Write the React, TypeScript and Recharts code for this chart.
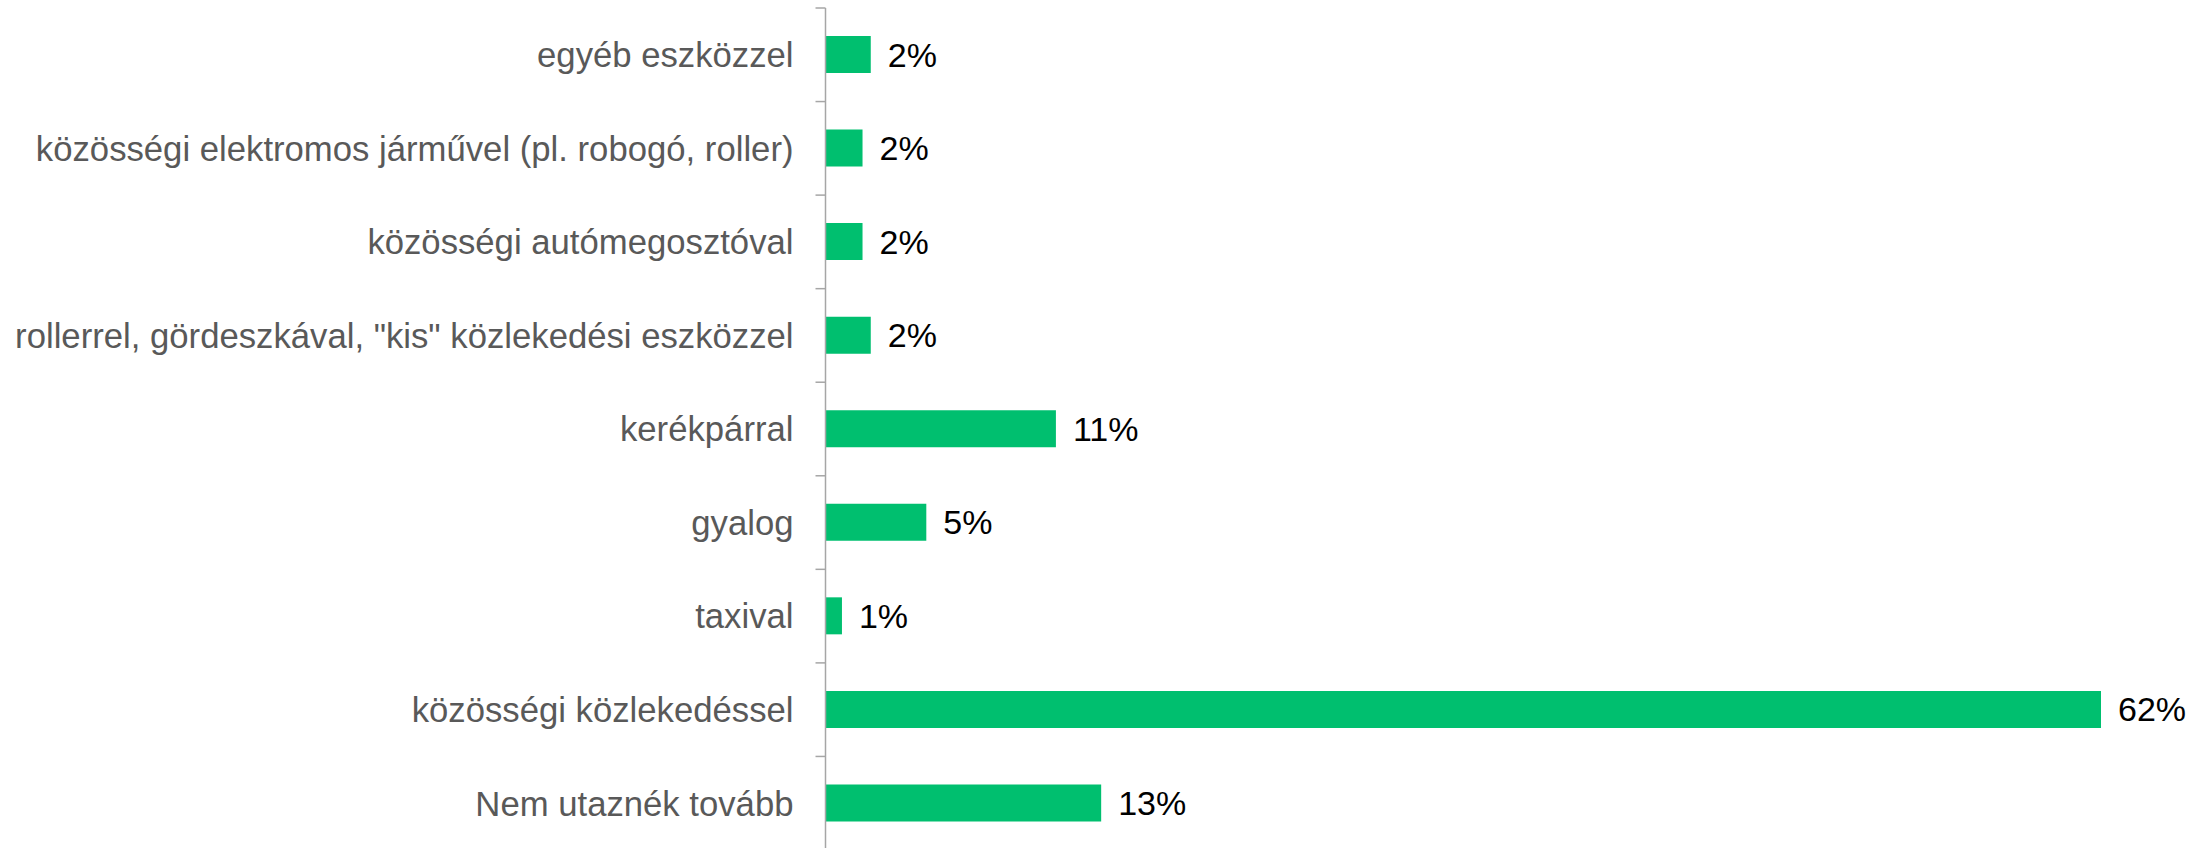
import React from "react";
import { BarChart, Bar, XAxis, YAxis, LabelList } from "recharts";

const categories = [
  "egyéb eszközzel",
  "közösségi elektromos járművel (pl. robogó, roller)",
  "közösségi autómegosztóval",
  "rollerrel, gördeszkával, \"kis\" közlekedési eszközzel",
  "kerékpárral",
  "gyalog",
  "taxival",
  "közösségi közlekedéssel",
  "Nem utaznék tovább",
];

const values = [2.2, 1.8, 1.8, 2.2, 11.2, 4.9, 0.8, 62.0, 13.4];

const data = categories.map((name, i) => ({ name, value: values[i] }));

const FONT = "'Liberation Sans', Arial, sans-serif";
const CHART_H = 852;
const MARGIN = { top: 8, right: 107, bottom: 2, left: 0 };
const TICK_SIZE = 10;
const TICK_MARGIN = 22;
const BAND = (CHART_H - MARGIN.top - MARGIN.bottom) / categories.length;

const CategoryTick = (props: any) => {
  const { x, y, payload, index } = props;
  const axisX = x + TICK_MARGIN + TICK_SIZE;
  return (
    <g>
      <text
        x={x}
        y={y}
        dy="0.355em"
        textAnchor="end"
        fill="#595959"
        fontSize={34.7}
        fontFamily={FONT}
      >
        {payload.value}
      </text>
      <line
        x1={axisX - TICK_SIZE}
        x2={axisX}
        y1={y - BAND / 2}
        y2={y - BAND / 2}
        stroke="#a6a6a6"
        strokeWidth={1.5}
      />
      {index === categories.length - 1 && (
        <line
          x1={axisX - TICK_SIZE}
          x2={axisX}
          y1={y + BAND / 2}
          y2={y + BAND / 2}
          stroke="#a6a6a6"
          strokeWidth={1.5}
        />
      )}
    </g>
  );
};

export default function App() {
  return (
    <div style={{ position: "absolute", left: 0, top: 0, background: "#fff" }}>
      <BarChart
        width={2208}
        height={CHART_H}
        data={data}
        layout="vertical"
        margin={MARGIN}
        barCategoryGap={0}
      >
        <XAxis type="number" hide domain={[0, 62]} />
        <YAxis
          type="category"
          dataKey="name"
          width={825.5}
          tickSize={TICK_SIZE}
          tickMargin={TICK_MARGIN}
          tickLine={false}
          axisLine={{ stroke: "#a6a6a6", strokeWidth: 1.5 }}
          tick={<CategoryTick />}
          interval={0}
        />
        <Bar dataKey="value" fill="#00bf6f" barSize={37} isAnimationActive={false}>
          <LabelList
            dataKey="value"
            position="right"
            offset={17}
            fill="#000"
            fontSize={34}
            fontFamily={FONT}
            formatter={(v: any) => `${Math.round(Number(v))}%`}
          />
        </Bar>
      </BarChart>
    </div>
  );
}
